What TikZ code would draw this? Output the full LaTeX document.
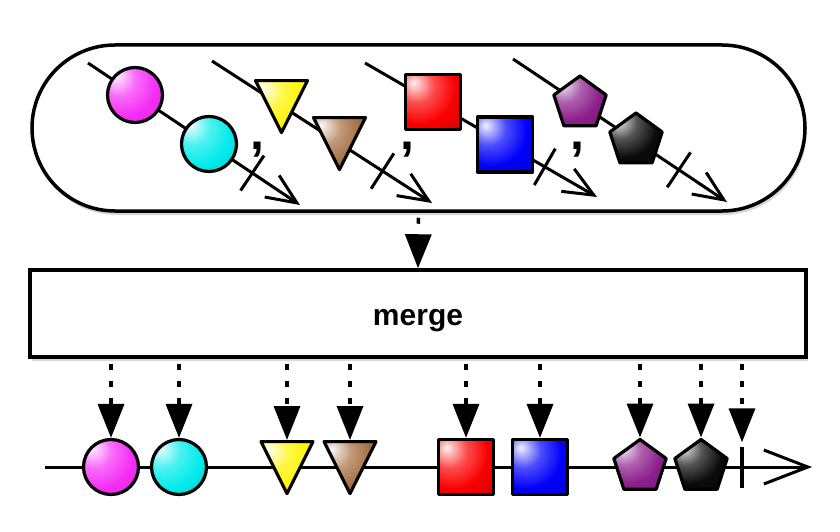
\documentclass[tikz,border=0pt]{standalone}
\usepackage{fontspec}
\setmainfont{Liberation Sans}
\usetikzlibrary{positioning, arrows.meta, shapes, shadows}
\definecolor{pinkball}{RGB}{245,45,245}
\definecolor{cyanball}{RGB}{0,235,235}
\definecolor{yellowwedge}{RGB}{255,245,0}
\definecolor{brownwedge}{RGB}{165,110,65}
\definecolor{redbox}{RGB}{250,0,0}
\definecolor{bluebox}{RGB}{0,0,250}
\definecolor{purplepenta}{RGB}{140,30,140}
\definecolor{blackpenta}{RGB}{10,10,10}
\colorlet{glosscol}{red}
\pgfdeclareradialshading[glosscol]{gloss}{\pgfpoint{-18bp}{18bp}}{%
  color(0bp)=(glosscol!5!white); color(16bp)=(glosscol!70!white);
  color(32bp)=(glosscol); color(58bp)=(glosscol!80!black);
  color(80bp)=(glosscol!40!black); color(100bp)=(glosscol!40!black)}
\tikzset{
  marble/.style={draw, line width=3.2pt, line join=round, inner sep=0pt, shade, shading=gloss, /utils/exec={\colorlet{glosscol}{#1}}},
  ball/.style={marble=#1, circle, minimum size=55pt},
  tile/.style={marble=#1, rectangle, minimum size=55pt},
  wedge/.style={marble=#1, isosceles triangle, isosceles triangle stretches, shape border rotate=-90, minimum width=52pt, minimum height=52pt, anchor=north},
  penta/.style={marble=#1, regular polygon, regular polygon sides=5, minimum size=55pt},
  stream/.style={line width=3pt, -{Straight Barb[length=30pt, width=26pt]}},
  cut/.style={pos=.775, sloped, inner sep=0pt},
  sep/.style={inner sep=0pt, font=\fontsize{50}{50}\selectfont\bfseries},
  feed/.style={line width=3.5pt, dash pattern=on 6pt off 11pt, shorten <=5pt, -{Triangle[length=34pt, width=26pt]}},
  softshadow/.style={drop shadow={opacity=.3, shadow xshift=1.5pt, shadow yshift=-4pt}}
}

\begin{document}
\begin{tikzpicture}[x=1pt, y=-1pt]
    \fill[white] (0,0) rectangle (840,532);
    \node[draw, fill=white, line width=3.5pt, rounded corners=83pt, minimum width=773pt, minimum height=166pt, softshadow] (bundle) at (418.5,128) {};
    \node[draw, fill=white, line width=3.5pt, minimum width=776pt, minimum height=87pt, text height=23pt, text depth=0pt, softshadow, font=\fontsize{30}{36}\selectfont\bfseries] (merge) at (418,313.5) {merge};

    \coordinate (a0) at (88,63);   \coordinate (a9) at (300,205);
    \coordinate (b0) at (212,61);  \coordinate (b9) at (432,203);
    \coordinate (c0) at (365,63);  \coordinate (c9) at (597,197);
    \coordinate (d0) at (513,59);  \coordinate (d9) at (727,202);
    \draw[stream] (a0) -- (a9) node[cut] (acut) {\rule{3pt}{42pt}};
    \draw[stream] (b0) -- (b9) node[cut] (bcut) {\rule{3pt}{42pt}};
    \draw[stream] (c0) -- (c9) node[cut] (ccut) {\rule{3pt}{42pt}};
    \draw[stream] (d0) -- (d9) node[cut] (dcut) {\rule{3pt}{42pt}};

    \node[ball=pinkball] (a1) at (135,95) {};
    \node[ball=cyanball] (a2) at (209,144) {};
    \node[wedge=yellowwedge] (b1) at (281.5,79) {};
    \node[wedge=brownwedge] (b2) at (339.5,116) {};
    \node[tile=redbox] (c1) at (433,102) {};
    \node[tile=bluebox] (c2) at (505,144.5) {};
    \node[penta=purplepenta] (d1) at (580,103.5) {};
    \node[penta=blackpenta] (d2) at (636,140.5) {};
    \node[sep] (ab) at (257,150) {,};
    \node[sep] (bc) at (407,150) {,};
    \node[sep] (cd) at (577,150) {,};

    \coordinate (out0) at (45,467);
    \coordinate (out9) at (812,467);
    \draw[line width=3pt, -{Straight Barb[length=44pt, width=34pt]}] (out0) -- (out9);
    \node[ball=pinkball] (m1) at (111,467) {};
    \node[ball=cyanball] (m2) at (179,467) {};
    \node[wedge=yellowwedge] (m3) at (287,440) {};
    \node[wedge=brownwedge] (m4) at (350,440) {};
    \node[tile=redbox] (m5) at (466,467) {};
    \node[tile=bluebox] (m6) at (540,467) {};
    \node[penta=purplepenta] (m7) at (640,467) {};
    \node[penta=blackpenta] (m8) at (701,467) {};
    \node[inner sep=0pt] (done) at (742,467) {\rule{3.5pt}{41pt}};

    \draw[feed] (bundle.south) -- (merge.north);
    \foreach \m in {m1,m2,m3,m4,m5,m6,m7,m8}
        \draw[feed] (merge.south -| \m) -- (\m.north);
    \draw[feed, shorten >=4pt] (merge.south -| done) -- (done.north);
\end{tikzpicture}
\end{document}
